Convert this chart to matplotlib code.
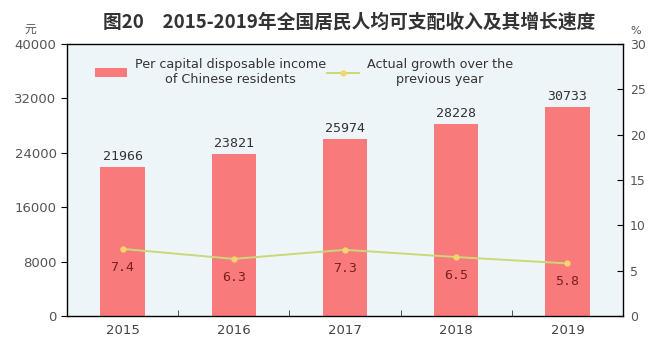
import matplotlib.pyplot as plt
from matplotlib.ticker import FixedLocator

plt.rcParams['font.family'] = ['DejaVu Sans', 'Noto Sans CJK SC']

years = ['2015', '2016', '2017', '2018', '2019']
income = [21966, 23821, 25974, 28228, 30733]
growth = [7.4, 6.3, 7.3, 6.5, 5.8]

bar_color = '#f87a7a'
line_color = '#c9d977'
x = range(len(years))

fig = plt.figure(figsize=(6.52, 3.38), dpi=100)
ax = fig.add_axes([67 / 652, 22 / 338, 556 / 652, 272 / 338])
ax.set_facecolor('#eef5f8')

bars = ax.bar(x, income, width=0.4, color=bar_color, zorder=2,
              label='Per capital disposable income\nof Chinese residents')
for i, v in enumerate(income):
    ax.text(i, v + 600, str(v), ha='center', va='bottom', fontsize=9.5,
            color='#333333', family='DejaVu Sans Mono')

ax.set_xlim(-0.5, 4.5)
ax.set_ylim(0, 40000)
ax.set_yticks(range(0, 40001, 8000))
ax.set_xticks(list(x))
ax.set_xticklabels(years)
ax.xaxis.set_minor_locator(FixedLocator([0.5, 1.5, 2.5, 3.5]))
ax.tick_params(axis='x', which='major', length=0, pad=6, labelsize=9.5, labelcolor='#444444')
ax.tick_params(axis='x', which='minor', direction='in', length=4, color='#333333')
ax.tick_params(axis='y', direction='out', length=4, labelsize=9.5, labelcolor='#555555')
for s in ax.spines.values():
    s.set_color('#444444')
    s.set_linewidth(1.0)

ax2 = ax.twinx()
ax2.set_ylim(0, 30)
ax2.set_yticks(range(0, 31, 5))
ax2.tick_params(axis='y', direction='in', length=4, labelsize=9, labelcolor='#555555', pad=5)
line, = ax2.plot(list(x), growth, color=line_color, lw=1.4, marker='o', ms=3.5,
                 mfc='#f6d66a', mec='#f6d66a', zorder=3,
                 label='Actual growth over the\nprevious year')
for i, g in enumerate(growth):
    ax2.text(i, g - 1.3, '%.1f' % g, ha='center', va='top', fontsize=9.5,
             color='#7a1f1f', family='DejaVu Sans Mono')

leg = ax.legend([bars, line], [bars.get_label(), line.get_label()], ncol=2,
                loc='upper left', bbox_to_anchor=(0.03, 0.99), frameon=False,
                fontsize=9.2, handlelength=2.5, columnspacing=0.1, handletextpad=0.6)
for t in leg.get_texts():
    t.set_multialignment('center')
    t.set_color('#333333')

fig.text(349 / 652, 1 - 22 / 338, '图20　2015-2019年全国居民人均可支配收入及其增长速度',
         ha='center', va='center', fontsize=13.5, fontweight='bold', color='#333333',
         family=['Noto Sans CJK SC', 'DejaVu Sans'])
fig.text(30 / 652, 1 - 29 / 338, '元', ha='center', va='center', fontsize=8.5,
         color='#555555', family=['Noto Sans CJK SC'])
fig.text(636 / 652, 1 - 31 / 338, '%', ha='center', va='center', fontsize=8, color='#555555')

fig.savefig('out.png', dpi=100)
